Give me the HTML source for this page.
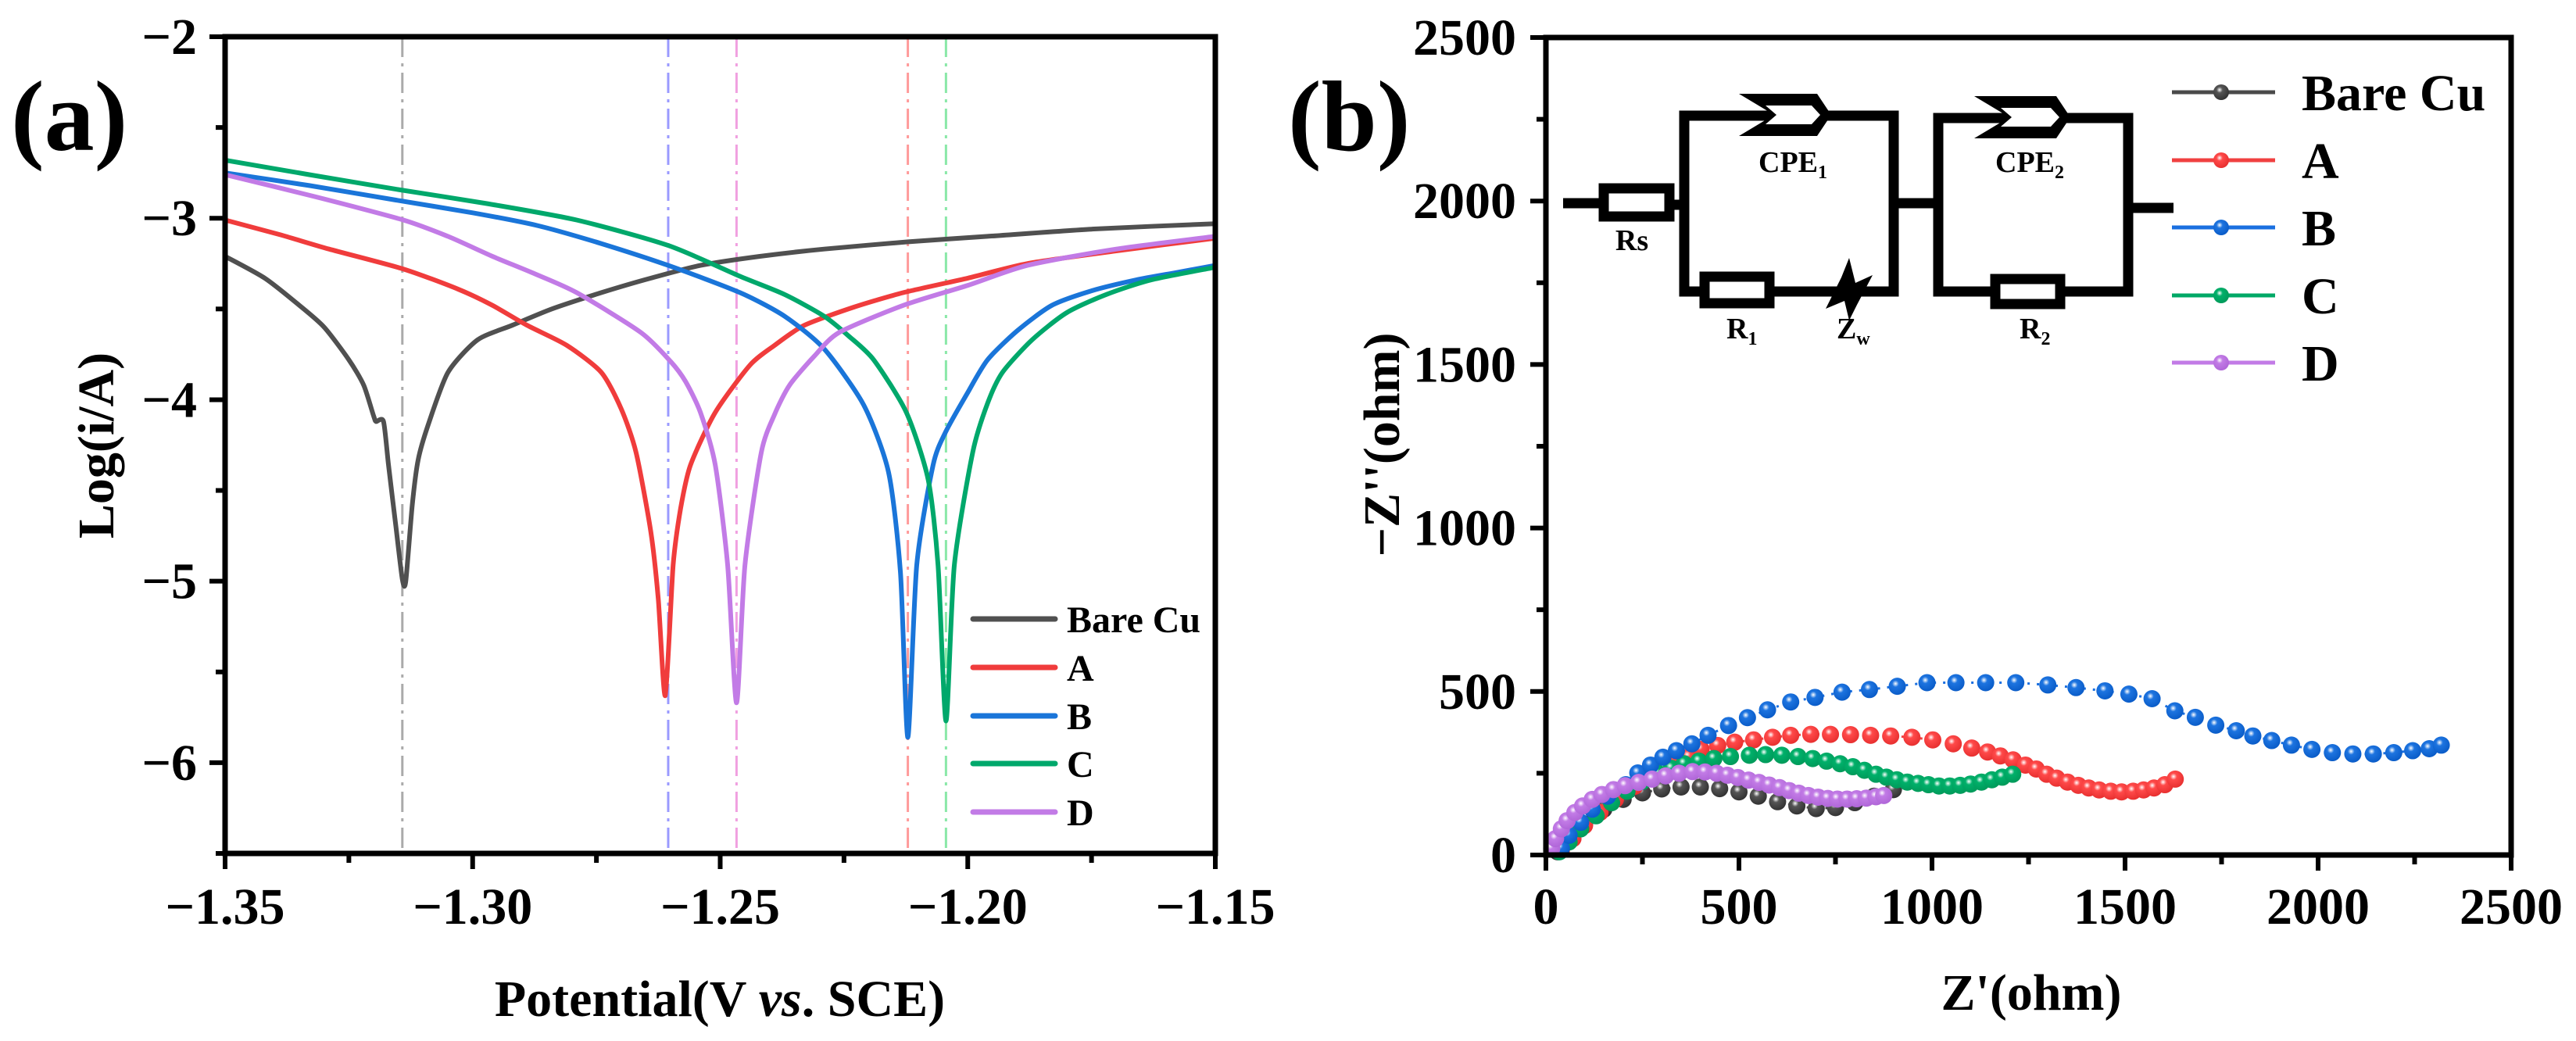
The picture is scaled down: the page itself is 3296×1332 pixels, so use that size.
<!DOCTYPE html>
<html><head><meta charset="utf-8"><style>
html,body{margin:0;padding:0;background:#fff;}
svg{display:block;}
svg text{font-family:"Liberation Serif","Times New Roman",serif;font-weight:bold;}
</style></head><body>
<svg id="fig" width="3296" height="1332" viewBox="0 0 3296 1332" xmlns="http://www.w3.org/2000/svg" font-family="Liberation Serif, serif" font-weight="bold">
<defs>
<radialGradient id="gk" cx="0.4" cy="0.35" r="0.65"><stop offset="0" stop-color="#fff"/><stop offset="0.3" stop-color="#555"/><stop offset="1" stop-color="#333"/></radialGradient>
<radialGradient id="gr" cx="0.4" cy="0.35" r="0.65"><stop offset="0" stop-color="#fff"/><stop offset="0.3" stop-color="#ff4a4a"/><stop offset="1" stop-color="#e83030"/></radialGradient>
<radialGradient id="gb" cx="0.4" cy="0.35" r="0.65"><stop offset="0" stop-color="#fff"/><stop offset="0.3" stop-color="#1d74e0"/><stop offset="1" stop-color="#0a5cc8"/></radialGradient>
<radialGradient id="gg" cx="0.4" cy="0.35" r="0.65"><stop offset="0" stop-color="#fff"/><stop offset="0.3" stop-color="#00b06a"/><stop offset="1" stop-color="#009a5a"/></radialGradient>
<radialGradient id="gp" cx="0.4" cy="0.35" r="0.65"><stop offset="0" stop-color="#fff"/><stop offset="0.3" stop-color="#c27be6"/><stop offset="1" stop-color="#b066d8"/></radialGradient>
</defs>
<g id="pa"></g>
<g id="pb"></g>
</svg>
<script>
// ---- Panel (a) data ----
const seriesNames = ["Bare Cu","A","B","C","D"];
const tafelColors = ["#505050","#f03c3c","#1a75d9","#00a86b","#c27be6"];
const ecorrValues = [-1.3142,-1.2605,-1.2467,-1.2121,-1.2044];
const ecorrColors = ["#aaaaaa","#9a9aff","#f0a0e0","#ff9a9a","#8ae8a8"];
const tafelBare = [[-1.35,-3.21],[-1.342,-3.33],[-1.335,-3.48],[-1.33,-3.60],[-1.325,-3.78],[-1.322,-3.92],[-1.32,-4.09],[-1.3195,-4.12],[-1.318,-4.12],[-1.317,-4.36],[-1.3155,-4.7],[-1.3142,-4.99],[-1.3135,-5.0],[-1.3122,-4.58],[-1.311,-4.33],[-1.309,-4.14],[-1.305,-3.85],[-1.299,-3.67],[-1.292,-3.59],[-1.284,-3.50],[-1.274,-3.41],[-1.264,-3.33],[-1.254,-3.26],[-1.242,-3.21],[-1.229,-3.17],[-1.212,-3.13],[-1.196,-3.10],[-1.175,-3.06],[-1.15,-3.03]];
const tafelA = [[-1.35,-3.01],[-1.339,-3.09],[-1.329,-3.17],[-1.314,-3.28],[-1.303,-3.39],[-1.296,-3.48],[-1.289,-3.59],[-1.281,-3.70],[-1.274,-3.85],[-1.270,-4.05],[-1.267,-4.29],[-1.264,-4.73],[-1.2625,-5.1],[-1.2611,-5.63],[-1.2595,-4.91],[-1.258,-4.60],[-1.256,-4.36],[-1.251,-4.07],[-1.244,-3.81],[-1.239,-3.70],[-1.233,-3.59],[-1.223,-3.49],[-1.213,-3.41],[-1.200,-3.33],[-1.188,-3.25],[-1.170,-3.18],[-1.15,-3.11]];
const tafelB = [[-1.35,-2.75],[-1.333,-2.82],[-1.3155,-2.90],[-1.300,-2.97],[-1.287,-3.04],[-1.274,-3.14],[-1.2605,-3.26],[-1.246,-3.41],[-1.237,-3.54],[-1.229,-3.72],[-1.221,-4.03],[-1.216,-4.40],[-1.2136,-4.95],[-1.2121,-5.86],[-1.2103,-4.91],[-1.207,-4.36],[-1.2045,-4.18],[-1.200,-3.96],[-1.196,-3.78],[-1.190,-3.62],[-1.183,-3.48],[-1.175,-3.40],[-1.166,-3.34],[-1.158,-3.30],[-1.15,-3.26]];
const tafelC = [[-1.35,-2.68],[-1.333,-2.76],[-1.3155,-2.84],[-1.297,-2.92],[-1.279,-3.01],[-1.2605,-3.15],[-1.246,-3.32],[-1.237,-3.42],[-1.229,-3.54],[-1.224,-3.65],[-1.219,-3.78],[-1.2124,-4.07],[-1.208,-4.44],[-1.206,-4.91],[-1.2044,-5.77],[-1.2027,-4.91],[-1.199,-4.29],[-1.196,-4.02],[-1.193,-3.85],[-1.187,-3.67],[-1.180,-3.52],[-1.172,-3.42],[-1.163,-3.34],[-1.15,-3.27]];
const tafelD = [[-1.35,-2.76],[-1.332,-2.88],[-1.314,-3.01],[-1.305,-3.10],[-1.296,-3.21],[-1.288,-3.30],[-1.279,-3.41],[-1.266,-3.63],[-1.260,-3.79],[-1.257,-3.90],[-1.254,-4.07],[-1.251,-4.36],[-1.2485,-4.91],[-1.2467,-5.67],[-1.245,-4.91],[-1.2417,-4.29],[-1.239,-4.08],[-1.236,-3.92],[-1.231,-3.76],[-1.226,-3.63],[-1.213,-3.48],[-1.200,-3.37],[-1.188,-3.26],[-1.170,-3.17],[-1.15,-3.10]];
const xTicksA = ["-1.35","-1.30","-1.25","-1.20","-1.15"];
const yTicksA = ["-2","-3","-4","-5","-6"];
// ---- Panel (b) data ----
const nyqBare = [[30,10],[60,50],[100,95],[150,140],[200,170],[250,190],[300,202],[350,208],[400,208],[450,203],[500,193],[550,180],[600,163],[650,150],[700,142],[750,145],[800,160],[850,180],[900,200]];
const nyqA = [[40,15],[70,50],[100,90],[140,130],[180,170],[230,210],[280,245],[330,275],[370,300],[402,323],[445,335],[489,345],[538,352],[587,360],[634,366],[686,369],[737,369],[789,368],[841,366],[893,364],[948,360],[1002,352],[1055,340],[1103,327],[1144,315],[1177,303],[1210,291],[1242,275],[1270,263],[1297,247],[1323,235],[1351,223],[1379,213],[1406,205],[1433,199],[1463,195],[1491,193],[1521,195],[1548,199],[1575,205],[1603,215],[1630,232]];
const nyqB = [[40,20],[60,60],[90,100],[120,140],[160,180],[207,215],[238,251],[271,275],[303,299],[338,319],[378,340],[420,366],[473,396],[522,420],[574,444],[634,468],[697,482],[767,498],[838,506],[910,516],[987,527],[1062,527],[1139,527],[1217,527],[1300,520],[1373,512],[1448,502],[1510,492],[1570,478],[1629,441],[1682,421],[1735,397],[1788,380],[1831,364],[1880,350],[1931,336],[1984,323],[2037,313],[2090,309],[2143,309],[2196,313],[2245,319],[2288,325],[2319,336]];
const nyqC = [[35,10],[60,40],[90,80],[130,120],[170,160],[210,195],[250,225],[290,250],[325,265],[358,279],[396,287],[435,295],[478,301],[527,305],[569,307],[611,305],[653,301],[691,295],[727,287],[762,279],[795,270],[825,259],[855,247],[882,238],[909,230],[936,223],[964,219],[991,215],[1018,211],[1046,211],[1073,213],[1100,217],[1128,223],[1155,230],[1182,238],[1209,247]];
const nyqD = [[15,20],[25,50],[40,80],[55,105],[75,130],[95,150],[120,170],[145,185],[175,200],[205,212],[240,222],[275,232],[310,242],[345,250],[380,255],[412,254],[442,250],[470,244],[497,237],[525,229],[552,222],[578,214],[605,206],[630,197],[655,189],[680,182],[705,177],[730,173],[755,171],[780,171],[805,172],[830,174],[855,178],[875,182]];
const xTicksB = ["0","500","1000","1500","2000","2500"];
const yTicksB = ["0","500","1000","1500","2000","2500"];

const NS="http://www.w3.org/2000/svg";
function mk(parent,tag,attrs,text){const e=document.createElementNS(NS,tag);for(const k in attrs)e.setAttribute(k,attrs[k]);if(text!==undefined)e.textContent=text;parent.appendChild(e);return e;}
const minus=s=>s.replace('-','\u2212');
function smooth(pts){
  let d='M'+pts[0][0].toFixed(1)+','+pts[0][1].toFixed(1);
  for(let i=0;i<pts.length-1;i++){
    const p0=pts[Math.max(0,i-1)],p1=pts[i],p2=pts[i+1],p3=pts[Math.min(pts.length-1,i+2)];
    const t=0.12;
    d+=' C'+(p1[0]+(p2[0]-p0[0])*t).toFixed(1)+','+(p1[1]+(p2[1]-p0[1])*t).toFixed(1)+' '+(p2[0]-(p3[0]-p1[0])*t).toFixed(1)+','+(p2[1]-(p3[1]-p1[1])*t).toFixed(1)+' '+p2[0].toFixed(1)+','+p2[1].toFixed(1);
  }
  return d;
}

// ===== Panel A =====
const pa=document.getElementById('pa');
const AX0=288,AX1=1555,AY0=47,AY1=1092;
const ax=v=>AX0+(v+1.35)/0.2*(AX1-AX0);
const ay=v=>AY0+(-2-v)/4.5*(AY1-AY0);
ecorrValues.forEach((e,i)=>{
  const l=mk(pa,'line',{x1:ax(e),x2:ax(e),y1:AY0,y2:AY1,stroke:ecorrColors[i],'stroke-width':3,'stroke-dasharray':'26 8 4 8'});
  
  
});
[tafelBare,tafelA,tafelB,tafelC,tafelD].forEach((s,i)=>{
  const p=mk(pa,'path',{d:smooth(s.map(d=>[ax(d[0]),ay(d[1])])),fill:'none',stroke:tafelColors[i],'stroke-width':6,'stroke-linejoin':'round'});
  
  
});
let fr=mk(pa,'rect',{x:AX0,y:AY0,width:AX1-AX0,height:AY1-AY0,fill:'none',stroke:'#000','stroke-width':7});


for(let k=0;k<=8;k++){const v=-1.35+k*0.025,x=ax(v);mk(pa,'line',{x1:x,x2:x,y1:AY1,y2:AY1+(k%2?12:20),stroke:'#000','stroke-width':6});}
xTicksA.forEach((t,k)=>{const x=ax(parseFloat(t));const e=mk(pa,'text',{x:x,y:1182,'font-size':66,'text-anchor':'middle'},minus(t));
  
  });
for(let k=0;k<=9;k++){const v=-2-k*0.5,y=ay(v);mk(pa,'line',{x1:AX0,x2:AX0-(k%2?12:20),y1:y,y2:y,stroke:'#000','stroke-width':6});}
yTicksA.forEach(t=>{const y=ay(parseFloat(t));const e=mk(pa,'text',{x:252,y:y+22,'font-size':66,'text-anchor':'end'},minus(t));
  
  });
let t=mk(pa,'text',{x:921,y:1300,'font-size':66,'text-anchor':'middle'});


t.innerHTML='Potential(V <tspan font-style="italic">vs</tspan>. SCE)';
t=mk(pa,'text',{x:0,y:0,'font-size':66,'text-anchor':'middle',transform:'translate(145,570) rotate(-90)'},'Log(i/A)');


t=mk(pa,'text',{x:14,y:192,'font-size':128},'(a)');


const legRowsA=[792,854,916,977,1039];
seriesNames.forEach((n,i)=>{
  const g=mk(pa,'g',{});
  
  
  mk(g,'line',{x1:1245,x2:1350,y1:legRowsA[i],y2:legRowsA[i],stroke:tafelColors[i],'stroke-width':7,'stroke-linecap':'round'});
  mk(g,'text',{x:1365,y:legRowsA[i]+17,'font-size':48},n);
});

// ===== Panel B =====
const pb=document.getElementById('pb');
const BX0=1978,BX1=3213,BY0=48,BY1=1094;
const bx=v=>BX0+v/2500*(BX1-BX0);
const by=v=>BY1-v/2500*(BY1-BY0);
const nyqColors=["#4a4a4a","#f04040","#1a6fe0","#00a866","#c27be6"];
const grads=["gk","gr","gb","gg","gp"];
[nyqBare,nyqA,nyqC,nyqB,nyqD].forEach((s,j)=>{
  const i=[0,1,3,2,4][j];
  const g=mk(pb,'g',{});
  
  
  mk(g,'polyline',{points:s.map(d=>bx(d[0]).toFixed(1)+','+by(d[1]).toFixed(1)).join(' '),fill:'none',stroke:nyqColors[i],'stroke-width':3,'stroke-dasharray':'3 9'});
  s.forEach(d=>{mk(g,'circle',{cx:bx(d[0]),cy:by(d[1]),r:11,fill:'url(#'+grads[i]+')'});});
});
fr=mk(pb,'rect',{x:BX0,y:BY0,width:BX1-BX0,height:BY1-BY0,fill:'none',stroke:'#000','stroke-width':7});


for(let k=0;k<=10;k++){const x=bx(k*250);mk(pb,'line',{x1:x,x2:x,y1:BY1,y2:BY1+(k%2?12:20),stroke:'#000','stroke-width':6});
  const y=by(k*250);mk(pb,'line',{x1:BX0,x2:BX0-(k%2?12:20),y1:y,y2:y,stroke:'#000','stroke-width':6});}
xTicksB.forEach(tk=>{const e=mk(pb,'text',{x:bx(+tk),y:1182,'font-size':66,'text-anchor':'middle'},tk);
  
  });
yTicksB.forEach(tk=>{const e=mk(pb,'text',{x:1940,y:by(+tk)+22,'font-size':66,'text-anchor':'end'},tk);
  
  });
t=mk(pb,'text',{x:2599,y:1292,'font-size':66,'text-anchor':'middle'},"Z'(ohm)");


t=mk(pb,'text',{x:0,y:0,'font-size':66,'text-anchor':'middle',transform:'translate(1790,569) rotate(-90)'},"\u2212Z''(ohm)");


t=mk(pb,'text',{x:1648,y:192,'font-size':128},'(b)');


const legRowsB=[118,205,291,378,464];
seriesNames.forEach((n,i)=>{
  const g=mk(pb,'g',{});
  
  
  mk(g,'line',{x1:2779,x2:2911,y1:legRowsB[i],y2:legRowsB[i],stroke:nyqColors[i],'stroke-width':5});
  mk(g,'circle',{cx:2842,cy:legRowsB[i],r:10,fill:'url(#'+grads[i]+')'});
  mk(g,'text',{x:2945,y:legRowsB[i]+23,'font-size':66},n);
});
// circuit
const c=mk(pb,'g',{});


const W={stroke:'#000','stroke-width':13,fill:'none'};
mk(c,'line',Object.assign({x1:2000,x2:2046,y1:260,y2:260},W));
mk(c,'rect',Object.assign({x:2052,y:241,width:84,height:36},W,{fill:'#fff'}));
mk(c,'line',Object.assign({x1:2142,x2:2155,y1:262,y2:262},W));
mk(c,'rect',Object.assign({x:2155,y:148,width:268,height:225},W));
mk(c,'line',Object.assign({x1:2423,x2:2480,y1:260,y2:260},W));
mk(c,'rect',Object.assign({x:2480,y:151,width:243,height:222},W));
mk(c,'line',Object.assign({x1:2723,x2:2781,y1:266,y2:266},W));
function cpe(x0,x1,yc){
  mk(c,'polygon',{points:`${x0},${yc-27} ${x1-18},${yc-27} ${x1},${yc} ${x1-18},${yc+27} ${x0},${yc+27} ${x0+45},${yc}`,fill:'#000'});
  mk(c,'polygon',{points:`${x0+34},${yc-12} ${x1-25},${yc-12} ${x1-14},${yc} ${x1-25},${yc+12} ${x0+34},${yc+12} ${x0+48},${yc}`,fill:'#fff'});
}
cpe(2225,2343,147);cpe(2526,2649,150);
mk(c,'rect',Object.assign({x:2181,y:354,width:83,height:34},W,{fill:'#fff'}));
mk(c,'rect',Object.assign({x:2553,y:357,width:83,height:32},W,{fill:'#fff'}));
mk(c,'polygon',{points:'2366,330 2374,362 2396,352 2376,390 2366,410 2360,385 2336,395 2356,355',fill:'#000'});
mk(c,'text',{x:2088,y:320,'font-size':38,'text-anchor':'middle'},'Rs');
t=mk(c,'text',{x:2250,y:220,'font-size':38});t.innerHTML='CPE<tspan font-size="24" dy="8">1</tspan>';
t=mk(c,'text',{x:2553,y:220,'font-size':38});t.innerHTML='CPE<tspan font-size="24" dy="8">2</tspan>';
t=mk(c,'text',{x:2209,y:433,'font-size':38});t.innerHTML='R<tspan font-size="24" dy="8">1</tspan>';
t=mk(c,'text',{x:2350,y:433,'font-size':38});t.innerHTML='Z<tspan font-size="24" dy="8">w</tspan>';
t=mk(c,'text',{x:2584,y:433,'font-size':38});t.innerHTML='R<tspan font-size="24" dy="8">2</tspan>';
</script>
</body></html>
